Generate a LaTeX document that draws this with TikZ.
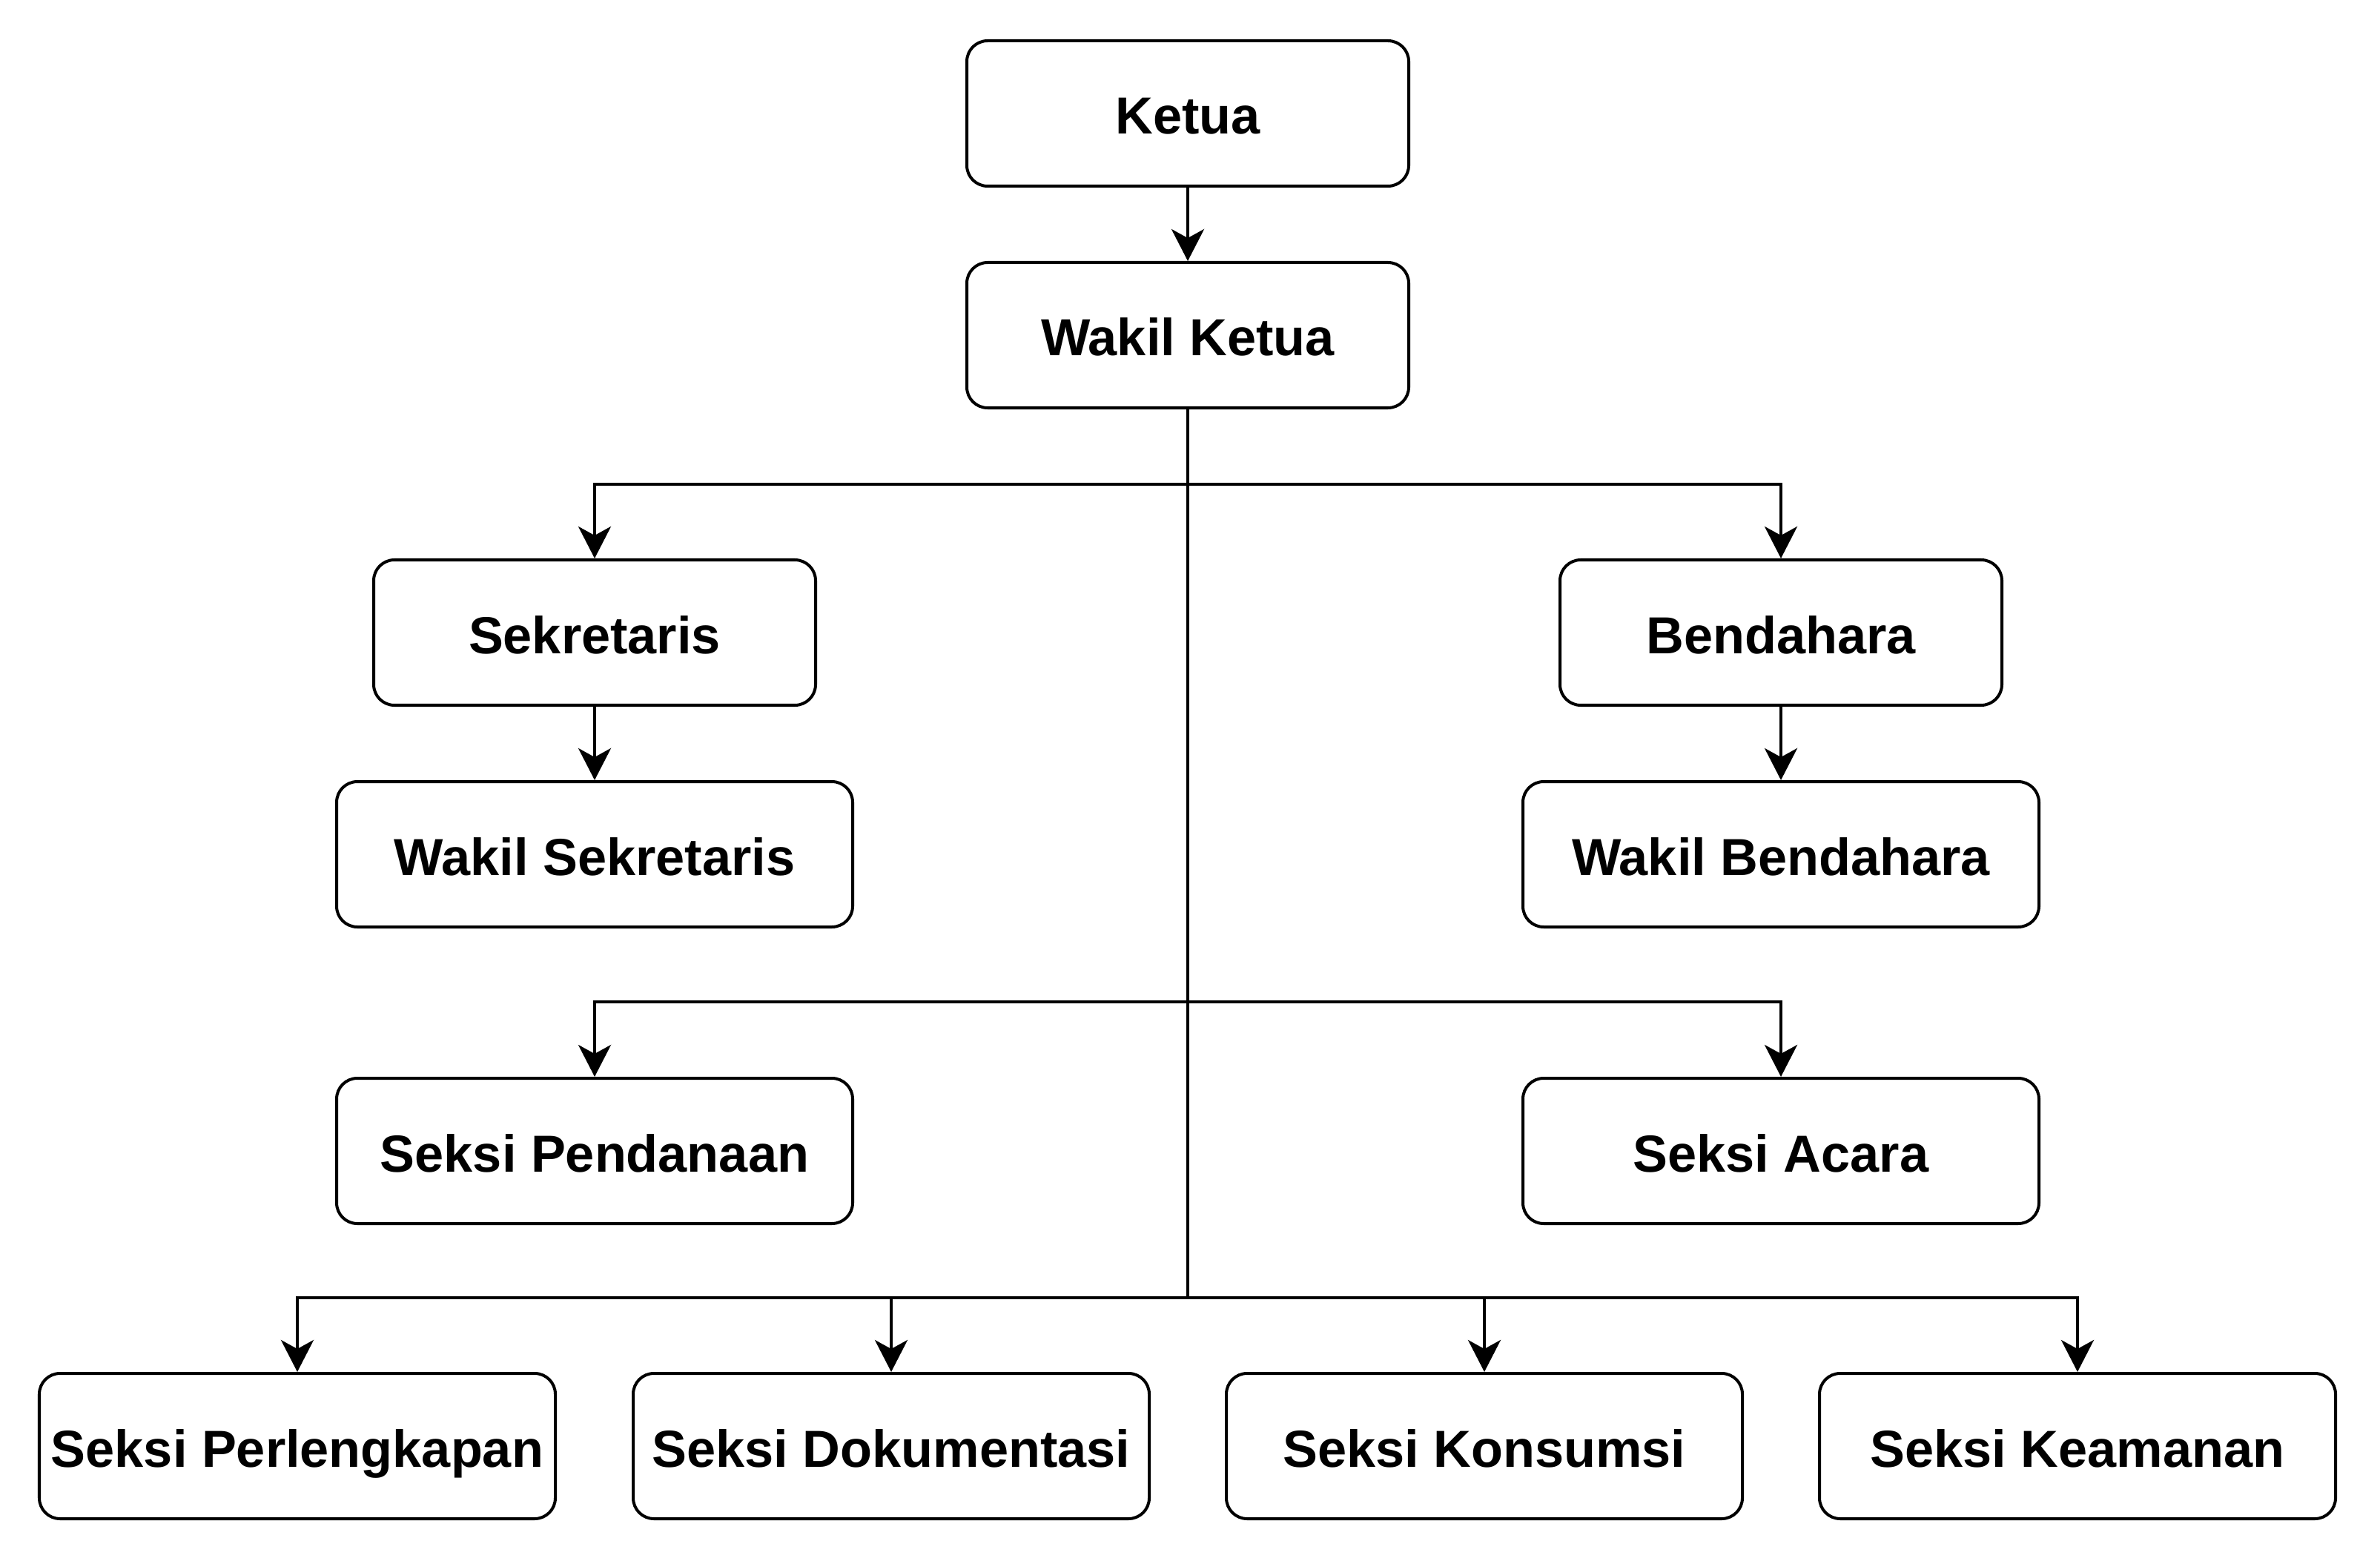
\documentclass[tikz,border=0pt]{standalone}
\usepackage{fontspec}
\setmainfont{Liberation Sans}
\usetikzlibrary{arrows.meta}
\begin{document}
\begin{tikzpicture}[line width=1.14pt, >={Stealth[length=0.43cm, width=0.44cm, inset=0.12cm]},
	jabatan/.style={draw, rounded corners=0.28cm, minimum height=1.96cm, minimum width=5.96cm,
		font=\fontsize{20}{24}\selectfont\bfseries, inner sep=0pt, text height=0.56cm, text depth=0cm},
	seksi/.style={jabatan, minimum width=6.96cm}]
	\useasboundingbox (0,0) rectangle (32.1,-21.05);
	% Baris cabang
	\coordinate (r1) at (0,-6.53);
	\coordinate (r2) at (0,-13.51);
	\coordinate (r3) at (0,-17.5);
	% Kotak jabatan
	\node[jabatan] (ketua) at (16.02,-1.53) {Ketua};
	\node[jabatan] (wketua) at (16.02,-4.52) {Wakil Ketua};
	\node[jabatan] (sekr) at (8.02,-8.53) {Sekretaris};
	\node[seksi] (wsekr) at (8.02,-11.52) {Wakil Sekretaris};
	\node[jabatan] (bend) at (24.02,-8.53) {Bendahara};
	\node[seksi] (wbend) at (24.02,-11.52) {Wakil Bendahara};
	\node[seksi] (dana) at (8.02,-15.52) {Seksi Pendanaan};
	\node[seksi] (acara) at (24.02,-15.52) {Seksi Acara};
	\node[seksi] (perl) at (4.01,-19.5) {Seksi Perlengkapan};
	\node[seksi] (dok) at (12.02,-19.5) {Seksi Dokumentasi};
	\node[seksi] (kons) at (20.02,-19.5) {Seksi Konsumsi};
	\node[seksi] (keam) at (28.02,-19.5) {Seksi Keamanan};
	% Garis penghubung
	\draw[->] (ketua) -- (wketua);
	\draw[->] (sekr) -- (wsekr);
	\draw[->] (bend) -- (wbend);
	\draw (wketua) -- (wketua.south |- r3);
	\draw[->] (wketua.south |- r1) -| (sekr);
	\draw[->] (wketua.south |- r1) -| (bend);
	\draw[->] (wketua.south |- r2) -| (dana);
	\draw[->] (wketua.south |- r2) -| (acara);
	\draw[->] (wketua.south |- r3) -| (perl);
	\draw[->] (wketua.south |- r3) -| (dok);
	\draw[->] (wketua.south |- r3) -| (kons);
	\draw[->] (wketua.south |- r3) -| (keam);
\end{tikzpicture}
\end{document}
